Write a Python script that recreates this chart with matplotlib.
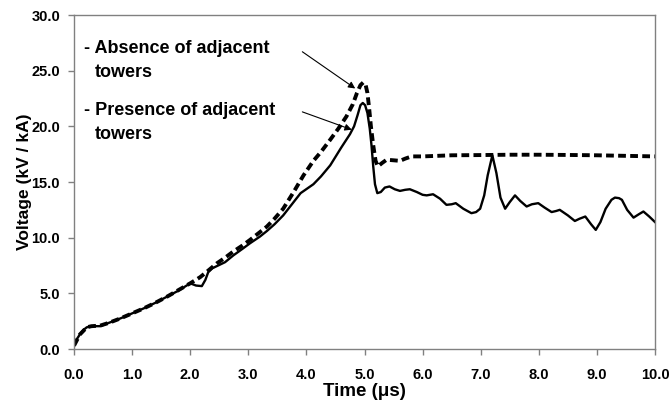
import matplotlib
matplotlib.use("Agg")
import matplotlib.pyplot as plt

plt.rcParams['font.family'] = ['Liberation Sans', 'DejaVu Sans']

# Voltage with adjacent towers present (solid line)
t_presence = [0.0, 0.05, 0.1, 0.16, 0.22, 0.3, 0.45, 0.6, 0.8, 1.0, 1.2, 1.4, 1.6, 1.8,
              2.0, 2.05, 2.1, 2.2, 2.26, 2.31, 2.38, 2.46, 2.6, 2.74, 2.9, 3.03, 3.2,
              3.32, 3.45, 3.6, 3.75, 3.9, 4.12, 4.25, 4.41, 4.6, 4.75, 4.82, 4.88,
              4.93, 4.97, 5.01, 5.05, 5.09, 5.12, 5.15, 5.18, 5.22, 5.28, 5.35, 5.43,
              5.52, 5.61, 5.7, 5.78, 5.9, 6.0, 6.07, 6.18, 6.3, 6.41, 6.5, 6.57, 6.7,
              6.84, 6.92, 6.99, 7.06, 7.12, 7.2, 7.27, 7.34, 7.42, 7.5, 7.59, 7.68,
              7.79, 7.88, 7.99, 8.1, 8.22, 8.3, 8.36, 8.5, 8.62, 8.7, 8.8, 8.9, 8.98,
              9.06, 9.15, 9.25, 9.31, 9.38, 9.43, 9.52, 9.63, 9.72, 9.8, 9.9, 10.0]
v_presence = [0.3, 0.9, 1.3, 1.7, 1.95, 2.05, 2.05, 2.35, 2.75, 3.2, 3.65, 4.15, 4.7, 5.25,
              5.9, 5.8, 5.7, 5.65, 6.2, 6.9, 7.25, 7.45, 7.8, 8.4, 9.0, 9.5, 10.1,
              10.6, 11.2, 12.0, 13.0, 14.0, 14.8, 15.5, 16.5, 18.1, 19.3, 20.0, 21.0,
              21.9, 22.1, 21.9, 21.2, 19.8, 18.3, 16.4, 14.8, 14.0, 14.1, 14.5, 14.6,
              14.35, 14.2, 14.3, 14.35, 14.1, 13.85, 13.8, 13.9, 13.5, 12.95, 13.0, 13.1, 12.6,
              12.2, 12.3, 12.6, 13.8, 15.6, 17.4, 15.8, 13.6, 12.6, 13.2, 13.8, 13.3,
              12.8, 13.0, 13.1, 12.7, 12.3, 12.4, 12.5, 12.0, 11.5, 11.7, 11.9, 11.2, 10.7,
              11.4, 12.6, 13.4, 13.6, 13.55, 13.4, 12.5, 11.8, 12.1, 12.35, 11.9, 11.4]

# Voltage without adjacent towers (dashed line)
t_absence = [0.0, 0.1, 0.22, 0.3, 0.45, 0.6, 0.8, 1.0, 1.2, 1.4, 1.6, 1.8, 2.0, 2.17, 2.3,
             2.46, 2.6, 2.74, 2.9, 3.03, 3.2, 3.32, 3.45, 3.6, 3.78, 3.95, 4.12, 4.25,
             4.41, 4.55, 4.69, 4.8, 4.87, 4.93, 4.98, 5.02, 5.05, 5.08, 5.11, 5.15,
             5.19, 5.23, 5.3, 5.38, 5.5, 5.61, 5.7, 5.81, 6.0, 6.5, 7.0, 7.5, 8.0,
             8.5, 9.0, 9.5, 10.0]
v_absence = [0.3, 1.3, 1.95, 2.05, 2.1, 2.35, 2.75, 3.2, 3.65, 4.15, 4.7, 5.3, 5.9, 6.45, 7.0,
             7.7, 8.2, 8.75, 9.3, 9.8, 10.5, 11.0, 11.7, 12.6, 14.1, 15.6, 16.9, 17.7,
             18.8, 19.8, 20.9, 22.0, 23.0, 23.7, 23.95, 23.7, 23.0, 21.6, 20.0, 18.3,
             16.9, 16.4, 16.7, 17.0, 16.95, 16.9, 17.1, 17.3, 17.3, 17.4, 17.42, 17.45, 17.45,
             17.43, 17.4, 17.35, 17.3]

x_ticks = [0, 1, 2, 3, 4, 5, 6, 7, 8, 9, 10]
y_ticks = [0, 5, 10, 15, 20, 25, 30]

fig = plt.figure(figsize=(6.71, 4.08), dpi=100)
ax = fig.add_axes([0.1103, 0.1446, 0.8659, 0.8186])

ax.plot(t_presence, v_presence, color='black', lw=1.7, solid_joinstyle='round')
ax.plot(t_absence, v_absence, color='black', lw=2.8, linestyle=(0, (2.0, 1.1)))

ax.set_xlim(0, 10)
ax.set_ylim(0, 30)
ax.set_xticks(x_ticks)
ax.set_yticks(y_ticks)
ax.set_xticklabels([f'{v:.1f}' for v in x_ticks], fontweight='bold', fontsize=10.5)
ax.set_yticklabels([f'{v:.1f}' for v in y_ticks], fontweight='bold', fontsize=10.5)
for s in ax.spines.values():
    s.set_color('#808080')
    s.set_linewidth(1.0)
ax.tick_params(direction='out', length=4, color='#808080', width=1.0)
ax.tick_params(axis='x', pad=10)
ax.tick_params(axis='y', pad=6)

ax.set_xlabel('Time (μs)', fontweight='bold', fontsize=13.5)
ax.set_ylabel('Voltage (kV / kA)', fontweight='bold', fontsize=12.5)
ax.xaxis.set_label_coords(0.5 + (365 - 365) / 581, -0.102)
ax.yaxis.set_label_coords(-0.072, 0.5)

# labels for the two curves
txt = dict(fontsize=13, fontweight='bold', color='black')
ax.text(0.17, 26.6, '- Absence of adjacent', **txt)
ax.text(0.36, 24.4, 'towers', **txt)
ax.text(0.17, 21.0, '- Presence of adjacent', **txt)
ax.text(0.36, 18.9, 'towers', **txt)

arrow = dict(arrowstyle='-|>', color='black', lw=0.8, mutation_scale=10, shrinkA=0, shrinkB=0)
ax.annotate('', xy=(4.84, 23.4), xytext=(3.93, 26.7), arrowprops=arrow)
ax.annotate('', xy=(4.78, 19.7), xytext=(3.93, 21.3), arrowprops=arrow)

fig.savefig('out.png', dpi=100)
